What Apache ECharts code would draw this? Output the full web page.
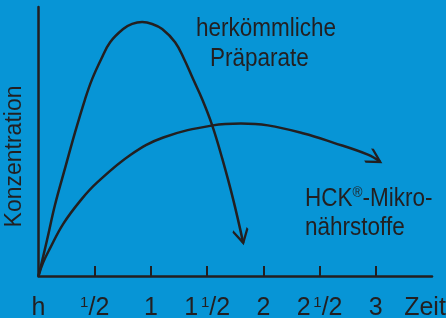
<!DOCTYPE html>
<html>
<head>
  <meta charset="UTF-8">
  <title>Konzentration / Zeit</title>
  <style>
    html, body { margin: 0; padding: 0; background: #0795d6; }
    #chart { width: 446px; height: 318px; }
  </style>
  <script src="https://cdn.jsdelivr.net/npm/echarts@6.0.0/dist/echarts.min.js"></script>
</head>
<body>
  <div id="chart"></div>
  <script>
    // Zeit in Stunden, Konzentration in relativen Einheiten (0..100)
    var tickLabels = ['h', '1/2', '1', '1 1/2', '2', '2 1/2', '3', 'Zeit'];
    var labelValues = [0, 0.5, 1, 1.5, 2, 2.5, 3, 3.5];
    var tickValues = [0.5, 1, 1.5, 2, 2.5, 3];

    var herkoemmlichX = [0, 0.076, 0.147, 0.245, 0.325, 0.414, 0.476, 0.557, 0.637, 0.753, 0.833, 0.922,
                         1.011, 1.100, 1.215, 1.296, 1.376, 1.456, 1.545, 1.634, 1.732, 1.821];
    var herkoemmlichY = [0, 13.4, 26.5, 41.4, 53.4, 65.7, 73.1, 80.6, 86.9, 91.8, 93.7, 94.4,
                         93.7, 91.8, 86.9, 80.6, 73.1, 65.7, 56.0, 43.7, 28.4, 12.3];

    var hckX = [0, 0.04, 0.10, 0.22, 0.38, 0.52, 0.82, 1.11, 1.55, 1.80, 2.04, 2.36, 2.62, 2.93, 3.04];
    var hckY = [0, 4.9, 10.1, 19.4, 28.4, 34.7, 45.1, 51.5, 56.0, 56.7, 56.0, 53.0, 49.6, 45.1, 42.4];

    var INK = '#231f20';
    var FONT = '"Liberation Sans", Arial, sans-serif';
    var ARROW = 'path://M0,0L9,5L0,10M18,5L18,5';

    var chart = echarts.init(document.getElementById('chart'));

    function pairs(xs, ys) {
      return xs.map(function (x, i) { return [x, ys[i]]; });
    }

    function arrowData(pts, rotate) {
      var data = pts.slice(0, -1);
      data.push({
        value: pts[pts.length - 1],
        symbol: ARROW,
        symbolSize: [27, 15],
        symbolRotate: rotate,
        itemStyle: { color: 'none', borderColor: INK, borderWidth: 2.5 }
      });
      return data;
    }

    function fmtLabel(label) {
      if (label.indexOf('/') < 0) {
        return label === 'Zeit' ? '{z|Zeit}' : '{n|' + label + '}';
      }
      var parts = label.split(' ');
      var frac = parts.pop().split('/');
      return (parts.length ? '{n|' + parts[0] + '}{g| }' : '') + '{s|' + frac[0] + '}{n|/' + frac[1] + '}';
    }

    var curves = [pairs(herkoemmlichX, herkoemmlichY), pairs(hckX, hckY)];

    function lineSeries(name, pts, rotate) {
      return {
        name: name,
        type: 'line',
        smooth: 0.4,
        symbol: 'none',
        silent: true,
        clip: false,
        lineStyle: { color: INK, width: 2.5 },
        data: arrowData(pts, rotate)
      };
    }

    var option = {
      backgroundColor: '#0795d6',
      animation: false,
      grid: { left: 38.5, right: 14, top: 7, bottom: 42, containLabel: false, outerBoundsMode: 'none' },
      xAxis: {
        type: 'value',
        min: 0,
        max: 3.5,
        axisLine: { lineStyle: { color: INK, width: 2.5 } },
        splitLine: { show: false },
        axisTick: {
          customValues: tickValues,
          inside: true,
          length: 10,
          lineStyle: { color: INK, width: 2 }
        },
        axisLabel: {
          customValues: labelValues,
          showMinLabel: true,
          showMaxLabel: true,
          hideOverlap: false,
          margin: 19,
          color: INK,
          formatter: function (v) {
            var i = labelValues.indexOf(v);
            return i < 0 ? '' : fmtLabel(tickLabels[i]);
          },
          rich: {
            n: { fontFamily: FONT, fontSize: 25, lineHeight: 26, color: INK },
            g: { fontFamily: FONT, fontSize: 10, lineHeight: 26, color: INK },
            s: { fontFamily: FONT, fontSize: 15, lineHeight: 15, verticalAlign: 'top', color: INK },
            z: { fontFamily: FONT, fontSize: 25, lineHeight: 26, color: INK, padding: [0, 14, 0, 0] }
          }
        }
      },
      yAxis: {
        type: 'value',
        min: 0,
        max: 100,
        name: 'Konzentration',
        nameLocation: 'middle',
        nameRotate: 90,
        nameGap: 12,
        nameTextStyle: { fontFamily: FONT, fontSize: 23, color: INK, padding: [0, 30, 0, 0] },
        axisLine: { show: true, lineStyle: { color: INK, width: 2.5 } },
        axisTick: { show: false },
        axisLabel: { show: false },
        splitLine: { show: false }
      },
      graphic: [
        { type: 'text', x: 196, y: 17, scaleX: 0.9, style: { text: 'herkömmliche', font: '25px ' + FONT, fill: INK } },
        { type: 'text', x: 210, y: 47, scaleX: 0.9, style: { text: 'Präparate', font: '25px ' + FONT, fill: INK } },
        {
          type: 'text', x: 305, y: 185, scaleX: 0.9,
          style: {
            text: '{a|HCK}{r|®}{a|-Mikro-}',
            rich: {
              a: { fontFamily: FONT, fontSize: 25, lineHeight: 28, fill: INK, color: INK },
              r: { fontFamily: FONT, fontSize: 15, lineHeight: 15, verticalAlign: 'top', fill: INK, color: INK }
            }
          }
        },
        { type: 'text', x: 305, y: 216, scaleX: 0.9, style: { text: 'nährstoffe', font: '25px ' + FONT, fill: INK } }
      ],
      series: [
        lineSeries('herkömmliche Präparate', curves[0], 0),
        lineSeries('HCK-Mikronährstoffe', curves[1], 0)
      ]
    };
    chart.setOption(option);

    // Pfeilspitzen in Richtung des letzten Kurvenabschnitts drehen
    var rotated = curves.map(function (pts) {
      var a = chart.convertToPixel({ gridIndex: 0 }, pts[pts.length - 2]);
      var b = chart.convertToPixel({ gridIndex: 0 }, pts[pts.length - 1]);
      var deg = Math.atan2(-(b[1] - a[1]), b[0] - a[0]) * 180 / Math.PI;
      return { data: arrowData(pts, deg) };
    });
    chart.setOption({ series: rotated });
  </script>
</body>
</html>
